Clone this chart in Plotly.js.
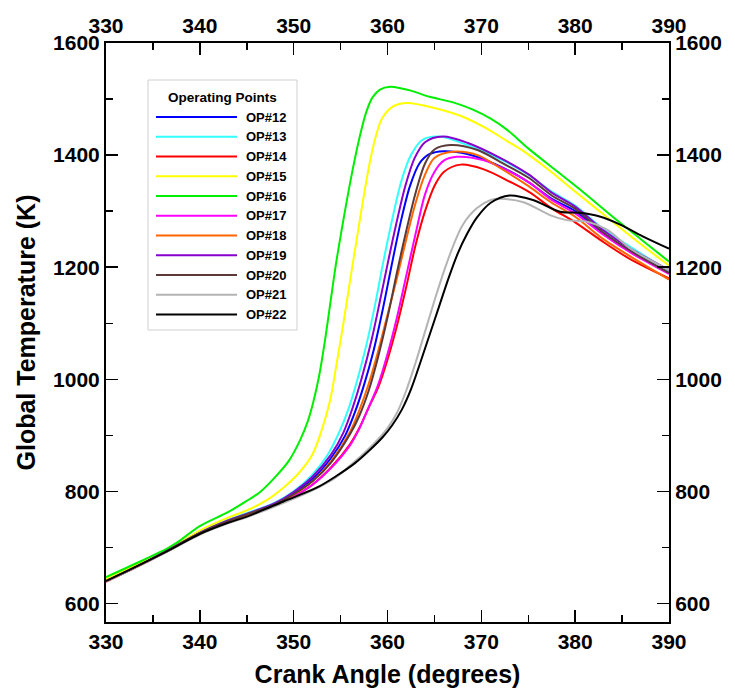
<!DOCTYPE html>
<html>
<head>
<meta charset="utf-8">
<script src="https://cdn.plot.ly/plotly-3.0.1.min.js"></script>
<style>html,body{margin:0;padding:0;background:#fff;}#chart{width:735px;height:691px;}</style>
</head>
<body>
<div id="chart"></div>
<script>
// ---- data ----
const seriesNames = ["OP#12","OP#13","OP#14","OP#15","OP#16","OP#17","OP#18","OP#19","OP#20","OP#21","OP#22"];
const seriesColors = ["#0000ff","#33ffff","#ff0000","#ffff00","#00ee00","#ff00ff","#ff6600","#8800cc","#5c3a3a","#b4b4b4","#000000"];

const op12_x = [330,333,336.5,340,343,345,348,350,352,354,355.5,356.5,357.5,358.5,359.5,360.4,361.4,362.4,363.4,364.5,366,368.5,372,375,377.5,380,383,386,390];
const op12_y = [641,665,695,727,748,760,778,797,822,860,900,940,990,1050,1125,1200,1280,1345,1385,1402,1407,1402,1380,1352,1322,1300,1260,1228,1190];

const op13_x = [330,333,336.5,340,343,345,348,350,352,353.5,354.7,355.8,356.8,357.8,358.7,359.5,360.5,361.5,362.5,363.7,365.5,368.5,372,375,377.5,380,383,386,390];
const op13_y = [641,665,695,727,749,761,780,800,830,862,900,945,1000,1065,1135,1205,1285,1355,1400,1427,1433,1418,1393,1365,1335,1310,1268,1235,1193];

const op14_x = [330,333,336.5,340,343,345,348,350,352,354,356,357,358,359,360,361,362,363,364,365,366,367.8,370.2,373.1,375.2,377.5,380,383,386,390];
const op14_y = [639,663,693,725,746,758,775,791,812,843,884,913,950,985,1035,1095,1165,1240,1300,1345,1370,1383,1375,1352,1333,1305,1280,1245,1213,1180];

const op15_x = [330,333,336.5,340,343,345,347,349,350.5,352,353,353.9,354.6,355.3,356,356.7,357.4,358.1,358.7,359.4,360.6,362.1,365,368.1,370.5,372.75,374.5,377.3,380,383.7,387,390];
const op15_y = [643,667,694,730,753,766,783,808,832,866,910,964,1030,1100,1175,1248,1320,1386,1430,1465,1487,1493,1484,1468,1448,1425,1407,1372,1335,1285,1241,1203];

const op16_x = [330,333,336.5,337.6,340,343,345,346.5,348,349.5,350.7,351.5,352.1,352.7,353.3,353.9,354.5,355.1,355.7,356.3,357,357.7,358.4,359.2,360.3,361.5,362.5,364.5,367,369.1,371,372.75,375,378,381,384,387,390];
const op16_y = [647,670,698,709,738,763,783,800,825,855,892,925,960,1005,1065,1135,1205,1265,1322,1375,1430,1475,1503,1517,1522,1519,1515,1504,1494,1481,1465,1445,1412,1372,1332,1290,1250,1210];

const op17_x = [330,333,336.5,340,343,345,348,350,352,354,356,357,358,359,360,361,362,363,364,365,366,367.4,370.2,373.1,375.2,377.5,380,383,386,390];
const op17_y = [639,663,693,725,746,758,775,791,812,842,882,912,950,990,1045,1110,1185,1260,1330,1370,1390,1397,1391,1370,1350,1320,1296,1258,1225,1188];

const op18_x = [330,333,336.5,340,343,345,348,350,352,354,356,357,358,359,360,361,362,363,364,365,367,369.6,372,375,377.5,380,383,386,390];
const op18_y = [639,663,693,725,746,758,776,794,818,854,906,945,992,1050,1115,1180,1250,1315,1365,1395,1406,1400,1377,1345,1315,1290,1250,1218,1178];

const op19_x = [330,333,336.5,340,343,345,348,350,352,354,355.3,356.3,357.3,358.3,359.2,360,360.9,361.9,362.9,364,365.9,368.5,372,375,377.5,380,383,386,390];
const op19_y = [640,664,694,726,748,760,779,799,826,866,905,950,1005,1070,1140,1205,1275,1345,1395,1423,1433,1422,1395,1366,1333,1308,1266,1232,1195];

const op20_x = [330,333,336.5,340,343,345,348,350,352,354,356,357,358,359,360,361,362,363,364,365,366.7,369.6,372,375,377.5,380,383,386,390];
const op20_y = [640,664,694,726,747,759,777,795,818,852,902,935,980,1040,1110,1190,1265,1333,1385,1410,1418,1409,1388,1360,1328,1304,1262,1228,1190];

const op21_x = [330,333,336.5,340,343,345,349,352.5,354.5,356,357.5,359,360,361,362,363,364,365,366,367,368,369.5,371,372,374.5,377.3,379.1,381.3,383.4,386,390];
const op21_y = [639,663,692,723,743,754,780,806,825,846,868,893,913,940,980,1030,1085,1140,1192,1238,1275,1305,1320,1322,1316,1293,1284,1281,1267,1232,1195];

const op22_x = [330,333,336.5,340,343,345,348.9,352.5,354.5,356.5,358,359.5,360.5,361.5,362.5,363.5,364.5,365.5,366.5,367.5,368.5,369.5,371,373,375.5,378.4,380.5,382.7,384.8,387.2,390];
const op22_y = [640,664,693,724,744,755,782,807,827,850,872,897,918,945,982,1030,1080,1130,1180,1225,1260,1288,1315,1328,1320,1299,1297,1290,1276,1255,1233];

const xTicks = [330,340,350,360,370,380,390];
const yTicks = [600,800,1000,1200,1400,1600];
const xTitle = "Crank Angle (degrees)";
const yTitle = "Global Temperature (K)";
const legendTitle = "Operating Points";

const seriesX = [op12_x,op13_x,op14_x,op15_x,op16_x,op17_x,op18_x,op19_x,op20_x,op21_x,op22_x];
const seriesY = [op12_y,op13_y,op14_y,op15_y,op16_y,op17_y,op18_y,op19_y,op20_y,op21_y,op22_y];

// ---- build ----
const FONT = "Arial, 'Liberation Sans', sans-serif";
const traces = seriesNames.map((n,i)=>({
  type:'scatter', mode:'lines', name:n, x:seriesX[i], y:seriesY[i],
  line:{color:seriesColors[i], width:2, shape:'spline', smoothing:0.9},
  showlegend:false, hoverinfo:'skip'
}));
// dummy trace so the mirrored top/right axes are drawn
traces.push({type:'scatter', mode:'lines', x:[330,390], y:[600,600], xaxis:'x2', yaxis:'y2',
  line:{width:0,color:'rgba(0,0,0,0)'}, showlegend:false, hoverinfo:'skip'});

// plot area in px
const L=106, R=669, T=43, B=622;
const px = v => (v-L)/(R-L);
const py = v => (B-v)/(B-T);

const shapes = [];
const annotations = [];
// legend box drawn from the series names/colours
shapes.push({type:'rect', xref:'paper', yref:'paper', x0:px(148), x1:px(297), y0:py(80), y1:py(330),
  line:{color:'#d0d0d0', width:1}, fillcolor:'#ffffff', layer:'above'});
annotations.push({xref:'paper', yref:'paper', x:px(222), y:py(97), text:legendTitle, showarrow:false,
  xanchor:'center', yanchor:'middle', font:{family:FONT, size:13.5, weight:700, color:'#000'}});
seriesNames.forEach((n,i)=>{
  const yy = 117 + i*19.75;
  shapes.push({type:'line', xref:'paper', yref:'paper', x0:px(156), x1:px(237), y0:py(yy), y1:py(yy),
    line:{color:seriesColors[i], width:2}, layer:'above'});
  annotations.push({xref:'paper', yref:'paper', x:px(244), y:py(yy), text:n, showarrow:false,
    xanchor:'left', yanchor:'middle', font:{family:FONT, size:13, weight:700, color:'#000'}});
});

const axBase = {
  showgrid:false, zeroline:false, showline:true, linecolor:'#000', linewidth:2,
  ticks:'inside', ticklen:12, tickwidth:1.5, tickcolor:'#000',
  tickfont:{family:FONT, size:21, weight:700, color:'#000'},
};
const layout = {
  width:735, height:691,
  margin:{l:L, r:735-R, t:T, b:691-B, pad:0},
  paper_bgcolor:'#fff', plot_bgcolor:'#fff',
  showlegend:false,
  xaxis:Object.assign({}, axBase, {range:[330,390], tickvals:xTicks,
    minor:{dtick:5, ticks:'inside', ticklen:7, tickwidth:1.5, tickcolor:'#000', showgrid:false},
    title:{text:xTitle, font:{family:FONT, size:25, weight:700, color:'#000'}, standoff:13}}),
  yaxis:Object.assign({}, axBase, {range:[567,1600], tickvals:yTicks,
    minor:{dtick:100, ticks:'inside', ticklen:7, tickwidth:1.5, tickcolor:'#000', showgrid:false},
    title:{text:yTitle, font:{family:FONT, size:25, weight:700, color:'#000'}, standoff:10}}),
  xaxis2:Object.assign({}, axBase, {range:[330,390], tickvals:xTicks, overlaying:'x', side:'top', anchor:'y2',
    minor:{dtick:5, ticks:'inside', ticklen:7, tickwidth:1.5, tickcolor:'#000', showgrid:false}}),
  yaxis2:Object.assign({}, axBase, {range:[567,1600], tickvals:yTicks, overlaying:'y', side:'right', anchor:'x2',
    minor:{dtick:100, ticks:'inside', ticklen:7, tickwidth:1.5, tickcolor:'#000', showgrid:false}}),
  shapes:shapes, annotations:annotations
};
Plotly.newPlot('chart', traces, layout, {staticPlot:true, displayModeBar:false});
</script>
</body>
</html>
